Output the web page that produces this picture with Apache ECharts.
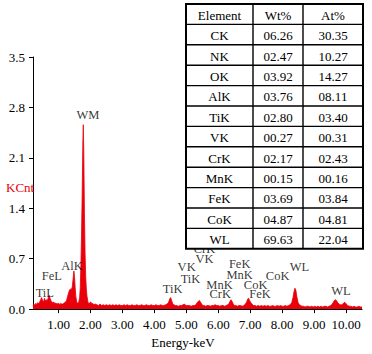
<!DOCTYPE html>
<html>
<head>
<meta charset="utf-8">
<title>EDS spectrum</title>
<script src="https://cdn.jsdelivr.net/npm/echarts@6/dist/echarts.min.js"></script>
<style>
  html, body { margin: 0; padding: 0; background: #fff; }
  #chart { width: 372px; height: 354px; }
</style>
</head>
<body>
<div id="chart"></div>
<script>
// spectrum: energy (keV) and counts (KCnt)
var energyKeV = [
  0.20, 0.23, 0.26, 0.29, 0.32, 0.35, 0.38, 0.41, 0.44, 0.47, 0.50, 0.53, 0.56, 0.59, 0.62, 0.65, 0.68, 0.71, 0.74, 0.77,
  0.80, 0.83, 0.86, 0.89, 0.92, 0.95, 0.98, 1.01, 1.04, 1.07, 1.10, 1.13, 1.16, 1.19, 1.22, 1.25, 1.28, 1.31, 1.34, 1.37,
  1.40, 1.43, 1.46, 1.48, 1.50, 1.52, 1.54, 1.57, 1.60, 1.63, 1.66, 1.68, 1.70, 1.72, 1.74, 1.76, 1.775, 1.79, 1.81, 1.83,
  1.85, 1.87, 1.89, 1.92, 1.95, 1.98, 2.01, 2.04, 2.07, 2.10, 2.15, 2.20, 2.25, 2.30, 2.35, 2.40, 2.45, 2.50, 2.55, 2.60,
  2.65, 2.70, 2.75, 2.80, 2.85, 2.90, 2.95, 3.00, 3.05, 3.10, 3.15, 3.20, 3.25, 3.30, 3.35, 3.40, 3.45, 3.50, 3.55, 3.60,
  3.65, 3.70, 3.75, 3.80, 3.85, 3.90, 3.95, 4.00, 4.05, 4.10, 4.15, 4.20, 4.25, 4.30, 4.35, 4.40, 4.44, 4.48, 4.51, 4.54,
  4.57, 4.61, 4.65, 4.70, 4.75, 4.80, 4.85, 4.90, 4.93, 4.96, 5.00, 5.05, 5.10, 5.15, 5.20, 5.25, 5.30, 5.34, 5.38, 5.41,
  5.44, 5.48, 5.52, 5.56, 5.60, 5.65, 5.70, 5.75, 5.80, 5.85, 5.90, 5.95, 6.00, 6.05, 6.10, 6.15, 6.20, 6.25, 6.30, 6.34,
  6.37, 6.40, 6.43, 6.47, 6.51, 6.55, 6.60, 6.65, 6.70, 6.75, 6.80, 6.85, 6.89, 6.92, 6.95, 6.98, 7.02, 7.06, 7.10, 7.15,
  7.20, 7.25, 7.30, 7.35, 7.40, 7.45, 7.50, 7.55, 7.60, 7.65, 7.70, 7.75, 7.80, 7.85, 7.90, 7.95, 8.00, 8.05, 8.10, 8.15,
  8.20, 8.25, 8.30, 8.34, 8.37, 8.40, 8.43, 8.46, 8.50, 8.54, 8.58, 8.62, 8.67, 8.72, 8.77, 8.82, 8.87, 8.92, 8.97, 9.02,
  9.07, 9.12, 9.17, 9.22, 9.27, 9.32, 9.37, 9.42, 9.47, 9.52, 9.57, 9.62, 9.66, 9.70, 9.74, 9.78, 9.82, 9.86, 9.90, 9.94,
  9.97, 10.01, 10.05, 10.10, 10.15, 10.20, 10.25, 10.30, 10.35, 10.40, 10.45, 10.50
];
var kcnt = [
  0.04, 0.07, 0.05, 0.08, 0.06, 0.09, 0.07, 0.10, 0.13, 0.16, 0.12, 0.10, 0.15, 0.11, 0.13, 0.12, 0.16, 0.19, 0.14, 0.11,
  0.09, 0.10, 0.08, 0.09, 0.07, 0.08, 0.07, 0.08, 0.06, 0.08, 0.07, 0.07, 0.08, 0.09, 0.10, 0.12, 0.17, 0.22, 0.26, 0.28,
  0.27, 0.31, 0.44, 0.53, 0.45, 0.30, 0.18, 0.10, 0.08, 0.09, 0.16, 0.30, 0.62, 1.05, 1.62, 2.31, 2.56, 2.18, 1.34, 0.78,
  0.45, 0.28, 0.18, 0.10, 0.07, 0.09, 0.10, 0.07, 0.08, 0.06, 0.07, 0.06, 0.05, 0.07, 0.05, 0.06, 0.05, 0.06, 0.05, 0.06,
  0.05, 0.06, 0.05, 0.06, 0.05, 0.06, 0.05, 0.05, 0.06, 0.05, 0.06, 0.05, 0.05, 0.06, 0.05, 0.05, 0.06, 0.05, 0.05, 0.06,
  0.05, 0.05, 0.06, 0.05, 0.05, 0.06, 0.05, 0.05, 0.06, 0.05, 0.05, 0.06, 0.05, 0.05, 0.06, 0.07, 0.09, 0.14, 0.16, 0.12,
  0.08, 0.06, 0.05, 0.05, 0.04, 0.05, 0.05, 0.06, 0.07, 0.06, 0.05, 0.05, 0.05, 0.04, 0.05, 0.05, 0.06, 0.09, 0.11, 0.12,
  0.10, 0.07, 0.05, 0.05, 0.04, 0.05, 0.05, 0.04, 0.05, 0.05, 0.06, 0.05, 0.05, 0.04, 0.05, 0.05, 0.04, 0.05, 0.06, 0.08,
  0.11, 0.13, 0.11, 0.07, 0.05, 0.05, 0.04, 0.05, 0.05, 0.04, 0.05, 0.07, 0.10, 0.14, 0.15, 0.12, 0.09, 0.07, 0.05, 0.05,
  0.04, 0.05, 0.04, 0.05, 0.04, 0.05, 0.04, 0.05, 0.04, 0.04, 0.05, 0.04, 0.04, 0.05, 0.04, 0.05, 0.04, 0.04, 0.05, 0.04,
  0.05, 0.06, 0.09, 0.16, 0.24, 0.29, 0.26, 0.17, 0.09, 0.06, 0.05, 0.04, 0.04, 0.03, 0.04, 0.04, 0.03, 0.04, 0.03, 0.04,
  0.03, 0.04, 0.03, 0.04, 0.03, 0.04, 0.04, 0.03, 0.04, 0.05, 0.07, 0.11, 0.13, 0.12, 0.09, 0.07, 0.06, 0.06, 0.07, 0.09,
  0.09, 0.07, 0.05, 0.04, 0.04, 0.03, 0.04, 0.03, 0.03, 0.04, 0.03, 0.03
];

// x tick labels
var xTicks = [1, 2, 3, 4, 5, 6, 7, 8, 9, 10];

// peak labels and where their text sits (keV, KCnt)
var peakNames = ['WM', 'AlK', 'FeL', 'TiL', 'TiK', 'TiK', 'VK', 'VK', 'CrK', 'MnK', 'CrK', 'FeK', 'MnK', 'CoK', 'FeK', 'CoK', 'WL', 'WL'];
var peakAtKeV = [1.92, 1.42, 0.79, 0.57, 4.57, 5.13, 5.01, 5.57, 5.57, 6.04, 6.06, 6.67, 6.67, 7.17, 7.31, 7.86, 8.54, 9.84];
var peakAtCnt = [2.70, 0.60, 0.46, 0.22, 0.28, 0.42, 0.59, 0.70, 0.83, 0.33, 0.21, 0.62, 0.47, 0.33, 0.21, 0.46, 0.58, 0.25];

// quantification table
var tableHead = ['Element', 'Wt%', 'At%'];
var elements = ['CK', 'NK', 'OK', 'AlK', 'TiK', 'VK', 'CrK', 'MnK', 'FeK', 'CoK', 'WL'];
var wtPct = ['06.26', '02.47', '03.92', '03.76', '02.80', '00.27', '02.17', '00.15', '03.69', '04.87', '69.63'];
var atPct = ['30.35', '10.27', '14.27', '08.11', '03.40', '00.31', '02.43', '00.16', '03.84', '04.81', '22.04'];

var font = 'Liberation Serif';
var red = '#e8000b';

var spectrum = energyKeV.map(function (e, i) { return [e, kcnt[i]] });
var peakData = peakNames.map(function (n, i) { return { name: n, value: [peakAtKeV[i], peakAtCnt[i]] } });

// table drawn as graphic elements
var tabLeft = 186, tabTop = 4, rowH = 20.4;
var colW = [67, 50, 60];
var tabW = colW[0] + colW[1] + colW[2];
var rows = [tableHead].concat(elements.map(function (el, i) { return [el, wtPct[i], atPct[i]] }));
var tableEls = [];
tableEls.push({
  type: 'rect',
  shape: { x: tabLeft, y: tabTop, width: tabW, height: rowH * rows.length },
  style: { fill: '#fff', stroke: '#000', lineWidth: 2 },
  z: 100
});
for (var r = 1; r < rows.length; r++) {
  tableEls.push({
    type: 'line',
    shape: { x1: tabLeft, y1: tabTop + r * rowH, x2: tabLeft + tabW, y2: tabTop + r * rowH },
    style: { stroke: '#000', lineWidth: 1.4 },
    z: 101
  });
}
var cx = tabLeft;
for (var c = 0; c < colW.length; c++) {
  if (c > 0) {
    tableEls.push({
      type: 'line',
      shape: { x1: cx, y1: tabTop, x2: cx, y2: tabTop + rowH * rows.length },
      style: { stroke: '#000', lineWidth: 1.4 },
      z: 101
    });
  }
  for (var r2 = 0; r2 < rows.length; r2++) {
    tableEls.push({
      type: 'text',
      x: cx + colW[c] / 2,
      y: tabTop + r2 * rowH + rowH / 2 + 1,
      style: { text: rows[r2][c], fontFamily: font, fontSize: 13, fill: '#000', align: 'center', verticalAlign: 'middle' },
      z: 102
    });
  }
  cx += colW[c];
}
// y axis name
tableEls.push({
  type: 'text',
  x: 6, y: 187,
  style: { text: 'KCnt', fontFamily: font, fontSize: 13, fill: red, align: 'left', verticalAlign: 'middle' },
  z: 102
});

var myChart = echarts.init(document.getElementById('chart'), null, { renderer: 'svg' });
myChart.setOption({
  animation: false,
  backgroundColor: '#fff',
  textStyle: { fontFamily: font },
  grid: { left: 33, right: 10, top: 57, bottom: 31 },
  xAxis: {
    type: 'value',
    min: 0.2,
    max: 10.5,
    name: 'Energy-keV',
    nameLocation: 'middle',
    nameGap: 15,
    nameTextStyle: { color: '#000', fontFamily: font, fontSize: 13, padding: [0, 29, 0, 0] },
    axisLine: { lineStyle: { color: '#000', width: 1 } },
    axisTick: { show: true, inside: false, length: 4, customValues: xTicks, lineStyle: { color: '#000' } },
    axisLabel: {
      customValues: xTicks,
      margin: 9,
      color: '#000',
      fontFamily: font,
      fontSize: 13,
      formatter: function (v) { return v.toFixed(2) }
    },
    splitLine: { show: false }
  },
  yAxis: {
    type: 'value',
    min: 0,
    max: 3.5,
    interval: 0.7,
    axisLine: { show: true, lineStyle: { color: '#000', width: 1 } },
    axisTick: { show: true, inside: false, length: 4, lineStyle: { color: '#000' } },
    axisLabel: {
      margin: 8,
      color: '#000',
      fontFamily: font,
      fontSize: 13,
      formatter: function (v) { return v.toFixed(1) }
    },
    splitLine: { show: false }
  },
  series: [
    {
      type: 'line',
      data: spectrum,
      symbol: 'none',
      lineStyle: { color: red, width: 0.8 },
      areaStyle: { color: red, opacity: 1 },
      z: 2
    },
    {
      type: 'scatter',
      data: peakData,
      symbolSize: 0,
      silent: true,
      label: {
        show: true,
        position: 'inside',
        formatter: '{b}',
        color: '#000',
        fontFamily: font,
        fontSize: 12.5
      },
      z: 3
    }
  ],
  graphic: tableEls
})
</script>
</body>
</html>
